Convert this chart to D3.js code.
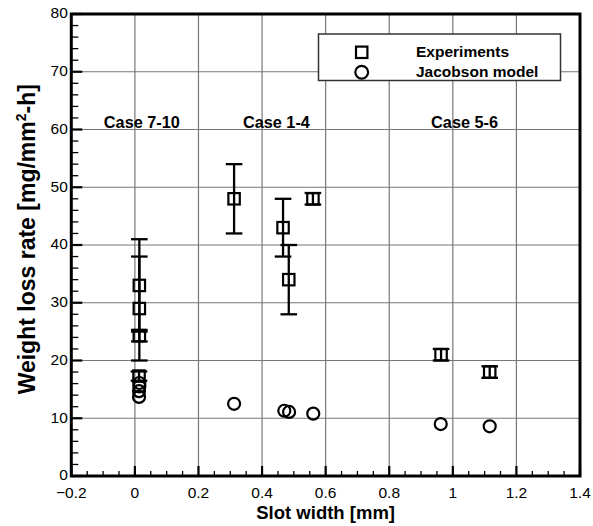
<!DOCTYPE html>
<html>
<head>
<meta charset="utf-8">
<script src="https://cdn.jsdelivr.net/npm/d3@7"></script>
<style>
  html, body { margin: 0; padding: 0; background: #fff; }
  svg { display: block; font-family: "Liberation Sans", Arial, Helvetica, sans-serif; }
</style>
</head>
<body>
<svg id="chart" width="593" height="526"></svg>
<script>
// Measured weight loss rate vs. slot width, with Jacobson model predictions
const expX   = [0.014, 0.014, 0.014, 0.013, 0.312, 0.466, 0.484, 0.560, 0.963, 1.116];
const expY   = [33, 29, 24.3, 17.3, 48, 43, 34, 48, 21, 18];
const expErr = [8, 9, 1, 0.8, 6, 5, 6, 1, 1, 1];

const modelX = [0.014, 0.014, 0.013, 0.013, 0.312, 0.470, 0.485, 0.561, 0.962, 1.116];
const modelY = [16.1, 15.5, 14.7, 13.7, 12.5, 11.3, 11.1, 10.8, 9.0, 8.6];

const caseLabels = ["Case 7-10", "Case 1-4", "Case 5-6"];
const caseX      = [0.022, 0.445, 1.037];
const caseY      = 60;

const xTicks = [-0.2, 0, 0.2, 0.4, 0.6, 0.8, 1, 1.2, 1.4];
const yTicks = [0, 10, 20, 30, 40, 50, 60, 70, 80];
const legendLabels = ["Experiments", "Jacobson model"];

const svg = d3.select("#chart");
const L = 71.3, R = 580, T = 14, B = 476;

const x = d3.scaleLinear().domain([-0.2, 1.4]).range([L, R]);
const y = d3.scaleLinear().domain([0, 80]).range([B, T]);

// grid
const grid = svg.append("g").attr("stroke", "#777").attr("stroke-width", 1.2);
grid.selectAll(".gx").data(xTicks.slice(1, -1)).join("line")
  .attr("x1", d => x(d)).attr("x2", d => x(d)).attr("y1", T).attr("y2", B);
grid.selectAll(".gy").data(yTicks.slice(1, -1)).join("line")
  .attr("x1", L).attr("x2", R).attr("y1", d => y(d)).attr("y2", d => y(d));

// axes with inward ticks
const xMinor = d3.range(-0.2, 1.4001, 0.05).filter(v => Math.abs(Math.round(v / 0.2) * 0.2 - v) > 1e-6);
const yMinor = d3.range(0, 80.001, 2).filter(v => v % 10 !== 0);

const ax = svg.append("g").attr("stroke", "#000");
ax.selectAll(".xmaj").data(xTicks).join("line")
  .attr("x1", d => x(d)).attr("x2", d => x(d)).attr("y1", B).attr("y2", B - 10).attr("stroke-width", 2.2);
ax.selectAll(".xmin").data(xMinor).join("line")
  .attr("x1", d => x(d)).attr("x2", d => x(d)).attr("y1", B).attr("y2", B - 5).attr("stroke-width", 1.3);
ax.selectAll(".ymaj").data(yTicks).join("line")
  .attr("y1", d => y(d)).attr("y2", d => y(d)).attr("x1", L).attr("x2", L + 11).attr("stroke-width", 2.2);
ax.selectAll(".ymin").data(yMinor).join("line")
  .attr("y1", d => y(d)).attr("y2", d => y(d)).attr("x1", L).attr("x2", L + 7).attr("stroke-width", 1.3);

svg.append("rect").attr("x", L).attr("y", T).attr("width", R - L).attr("height", B - T)
  .attr("fill", "none").attr("stroke", "#000").attr("stroke-width", 3);

// tick labels
svg.append("g").selectAll("text").data(xTicks).join("text")
  .attr("x", d => x(d)).attr("y", B + 22).attr("text-anchor", "middle")
  .attr("font-size", 15.5).text(d => d3.format("")(d));
svg.append("g").selectAll("text").data(yTicks).join("text")
  .attr("x", L - 3.5).attr("y", d => y(d)).attr("dy", "0.28em").attr("text-anchor", "end")
  .attr("font-size", 15.5).text(d => d);

// axis titles
svg.append("text").attr("x", (L + R) / 2).attr("y", 518.5).attr("text-anchor", "middle")
  .attr("font-size", 18.5).attr("font-weight", "bold").text("Slot width [mm]");
const yt = svg.append("text").attr("transform", `translate(34.5,${y(41)}) rotate(-90)`)
  .attr("text-anchor", "middle").attr("font-size", 23).attr("font-weight", "bold");
yt.append("tspan").text("Weight loss rate [mg/mm");
yt.append("tspan").attr("font-size", 14).attr("dy", -9).text("2");
yt.append("tspan").attr("dy", 9).text("-h]");

// case annotations
svg.append("g").selectAll("text").data(caseLabels).join("text")
  .attr("x", (d, i) => x(caseX[i])).attr("y", y(caseY) - 1.7).attr("text-anchor", "middle")
  .attr("font-size", 16.3).attr("font-weight", "bold").text(d => d);

// error bars
const capW = 8.3;
const eb = svg.append("g").attr("stroke", "#000").attr("stroke-width", 2.3);
expX.forEach((xv, i) => {
  const cx = x(xv), y0 = y(expY[i] - expErr[i]), y1 = y(expY[i] + expErr[i]);
  eb.append("line").attr("x1", cx).attr("x2", cx).attr("y1", y0).attr("y2", y1);
  eb.append("line").attr("x1", cx - capW).attr("x2", cx + capW).attr("y1", y0).attr("y2", y0);
  eb.append("line").attr("x1", cx - capW).attr("x2", cx + capW).attr("y1", y1).attr("y2", y1);
});

// markers
const sq = 11.4;
svg.append("g").selectAll("rect").data(expX).join("rect")
  .attr("x", d => x(d) - sq / 2).attr("y", (d, i) => y(expY[i]) - sq / 2)
  .attr("width", sq).attr("height", sq)
  .attr("fill", "none").attr("stroke", "#000").attr("stroke-width", 2.2);
svg.append("g").selectAll("circle").data(modelX).join("circle")
  .attr("cx", d => x(d)).attr("cy", (d, i) => y(modelY[i])).attr("r", 6)
  .attr("fill", "none").attr("stroke", "#000").attr("stroke-width", 2.2);

// legend
const lg = svg.append("g");
lg.append("rect").attr("x", 318.5).attr("y", 34).attr("width", 242).attr("height", 46.5)
  .attr("fill", "#fff").attr("stroke", "#333").attr("stroke-width", 1.5);
lg.append("rect").attr("x", 361.7 - 5.7).attr("y", 52.3 - 5.7).attr("width", 11.4).attr("height", 11.4)
  .attr("fill", "none").attr("stroke", "#000").attr("stroke-width", 2.2);
lg.append("circle").attr("cx", 361.7).attr("cy", 72.3).attr("r", 6.4)
  .attr("fill", "none").attr("stroke", "#000").attr("stroke-width", 2.2);
lg.selectAll("text").data(legendLabels).join("text")
  .attr("x", 416).attr("y", (d, i) => 56.7 + i * 20)
  .attr("font-size", 15.5).attr("font-weight", "bold").text(d => d);
</script>
</body>
</html>
